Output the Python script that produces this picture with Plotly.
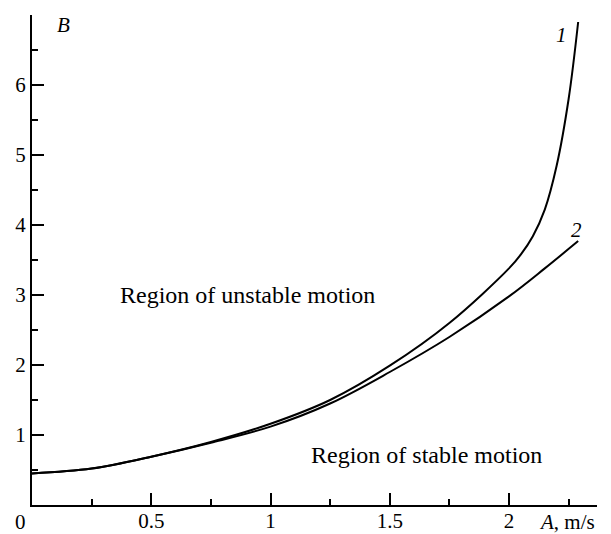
import plotly.graph_objects as go

# Curve 1
A1 = [0, 0.25, 0.5, 0.75, 1.0, 1.25, 1.5, 1.75, 2.0, 2.05, 2.1, 2.15, 2.2, 2.25, 2.29]
B1 = [0.45, 0.52, 0.69, 0.9, 1.16, 1.5, 1.99, 2.6, 3.38, 3.58, 3.84, 4.22, 4.85, 5.8, 6.9]
# Curve 2
A2 = [0, 0.25, 0.5, 0.75, 1.0, 1.25, 1.5, 1.75, 2.0, 2.15, 2.29]
B2 = [0.45, 0.52, 0.69, 0.89, 1.12, 1.45, 1.9, 2.4, 2.98, 3.38, 3.77]

x_ticks = [0.5, 1, 1.5, 2]
x_ticktext = ["0.5", "1", "1.5", "2"]
y_ticks = [1, 2, 3, 4, 5, 6, 7]
y_ticktext = ["1", "2", "3", "4", "5", "6", ""]

FONT = "Liberation Serif, Times New Roman, DejaVu Serif, serif"

fig = go.Figure()
for xs, ys in ((A1, B1), (A2, B2)):
    fig.add_trace(go.Scatter(x=xs, y=ys, mode="lines",
                             line=dict(color="black", width=2, shape="spline", smoothing=1.0),
                             showlegend=False, hoverinfo="skip"))

axis_common = dict(showline=True, linecolor="black", linewidth=2, showgrid=False,
                   zeroline=False, ticks="inside", ticklen=12, tickwidth=2, tickcolor="black",
                   automargin=False,
                   tickfont=dict(family=FONT, size=21, color="black"))

fig.update_xaxes(range=[0, 2.369], tickmode="array", tickvals=x_ticks, ticktext=x_ticktext,
                 ticklabelstandoff=-4,
                 minor=dict(ticks="inside", ticklen=6, tickwidth=2, tickcolor="black",
                            tick0=0, dtick=0.25, showgrid=False),
                 **axis_common)
fig.update_yaxes(range=[0, 7], tickmode="array", tickvals=y_ticks, ticktext=y_ticktext,
                 minor=dict(ticks="inside", ticklen=6, tickwidth=2, tickcolor="black",
                            tick0=0, dtick=0.5, showgrid=False),
                 **axis_common)

annots = [
    dict(x=0, y=0, xref="paper", yref="paper", text="0", xshift=-12, yshift=-17,
         xanchor="center", yanchor="middle",
         showarrow=False, font=dict(family=FONT, size=21)),
    dict(x=0.056, y=0.98, xref="paper", yref="paper", text="<i>B</i>",
         xanchor="center", yanchor="middle",
         showarrow=False, font=dict(family=FONT, size=21)),
    dict(x=1.0, y=0, xref="paper", yref="paper", text="<i>A</i>, m/s", xanchor="right",
         yanchor="middle", yshift=-17, showarrow=False, font=dict(family=FONT, size=21)),
    dict(x=2.222, y=6.71, xref="x", yref="y", text="<i>1</i>",
         showarrow=False, font=dict(family=FONT, size=21)),
    dict(x=2.281, y=3.93, xref="x", yref="y", text="<i>2</i>",
         showarrow=False, font=dict(family=FONT, size=21)),
    dict(x=0.36, y=3.0, xref="x", yref="y", text="Region of unstable motion", xanchor="left",
         showarrow=False, font=dict(family=FONT, size=24)),
    dict(x=1.161, y=0.714, xref="x", yref="y", text="Region of stable motion", xanchor="left",
         showarrow=False, font=dict(family=FONT, size=24)),
]
for a in annots:
    a["font"]["color"] = "black"
fig.update_layout(width=611, height=534, margin=dict(l=32, r=14, t=15, b=29),
                  paper_bgcolor="white", plot_bgcolor="white", annotations=annots)

fig.write_html("out.html", config={"displayModeBar": False},
               post_script="document.body.style.margin='0';document.body.style.overflow='hidden';")
